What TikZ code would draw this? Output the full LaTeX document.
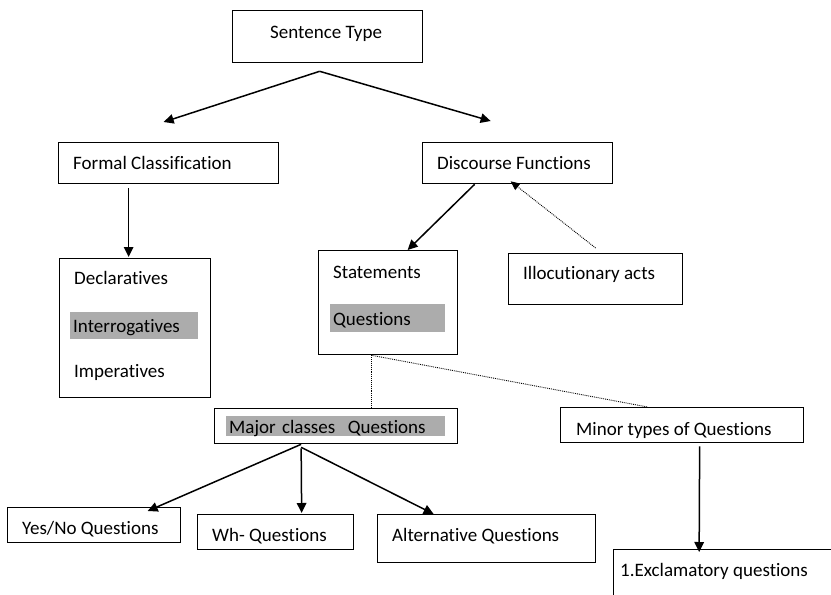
\documentclass[tikz,border=0pt]{standalone}
\usepackage{fontspec}
\setmainfont[Ligatures={NoCommon}]{Carlito}
\usetikzlibrary{arrows.meta}
\definecolor{hlgray}{RGB}{172,172,172}

\begin{document}
\begin{tikzpicture}[
  x=1pt,y=-1pt,
  font=\fontsize{19}{22}\selectfont,
  box/.style={draw,line width=1.3pt,anchor=north west,inner sep=0pt},
  lbl/.style={anchor=west,inner sep=0pt,text height=16pt,text depth=2pt},
  hl/.style={fill=hlgray,anchor=west,inner xsep=3pt,inner ysep=0pt,
             align=left,text height=16pt,text depth=2pt},
  arr/.style={-{Triangle[length=10pt,width=9.5pt]},line width=1.5pt},
  dots/.style={densely dotted,line width=0.9pt},
]
  \useasboundingbox (0,0) rectangle (831,595);
  \clip (0,0) rectangle (831,595);

  % boxes
  \node[box,minimum width=190pt,minimum height=52pt] (sent) at (232,10) {};
  \node[box,minimum width=220pt,minimum height=41pt] (formal) at (58,142) {};
  \node[box,minimum width=190pt,minimum height=41pt] (disc) at (422,142) {};
  \node[box,minimum width=151pt,minimum height=139pt] (decl) at (59,258) {};
  \node[box,minimum width=139pt,minimum height=104pt] (stat) at (318,250) {};
  \node[box,minimum width=174pt,minimum height=51pt] (illoc) at (508,253) {};
  \node[box,minimum width=243pt,minimum height=35pt] (major) at (214,408) {};
  \node[box,minimum width=243pt,minimum height=35pt] (minor) at (560,407) {};
  \node[box,minimum width=173pt,minimum height=35pt] (yesno) at (7,507) {};
  \node[box,minimum width=156pt,minimum height=35pt] (wh) at (197,514) {};
  \node[box,minimum width=218pt,minimum height=48pt] (alt) at (377,514) {};
  \node[box,minimum width=300pt,minimum height=100pt] (excl) at (613,549) {};

  % texts
  \node[lbl] (sentT) at (270,31) {Sentence Type};
  \node[lbl] (formalT) at (73,162) {Formal Classification};
  \node[lbl] (discT) at (437,162) {Discourse Functions};
  \node[lbl] (declT) at (74,277) {Declaratives};
  \node[hl,minimum height=27pt,text width=122pt] (interT) at (70,325.5) {Interrogatives};
  \node[lbl] (impT) at (74,370) {Imperatives};
  \node[lbl] (statT) at (333,271) {Statements};
  \node[hl,minimum height=28pt,text width=109pt] (quesT) at (330,318) {Questions};
  \node[lbl] (illocT) at (523,272) {Illocutionary acts};
  \node[hl,minimum height=20pt,text width=213pt] (majorT) at (226,426) {Major classes\ \ Questions};
  \node[lbl] (minorT) at (576,428) {Minor types of Questions};
  \node[lbl] (yesnoT) at (22,527) {Yes/No Questions};
  \node[lbl] (whT) at (212,534) {Wh- Questions};
  \node[lbl] (altT) at (392,534) {Alternative Questions};
  \node[lbl] (exclT) at (620,569) {1.Exclamatory questions};

  % connectors
  \coordinate (split) at ([xshift=-8pt,yshift=-8pt]sent.south);
  \draw[arr] (split) -- ([xshift=-5pt,yshift=20pt]formal.north);
  \draw[arr] (split) -- ([xshift=-27pt,yshift=21pt]disc.north);
  \draw[arr] ([xshift=-40pt,yshift=-4pt]formal.south) -- ([xshift=-6.5pt,yshift=1pt]decl.north);
  \draw[arr] ([xshift=-43pt]disc.south) -- ([xshift=19.5pt]stat.north);
  \draw[dots,-{Triangle[length=9pt,width=8pt]}] ([yshift=5pt]illoc.north) -- ([xshift=-7pt,yshift=3pt]disc.south);

  \coordinate (statOut) at ([xshift=-16.5pt]stat.south);
  \draw[dots] (statOut) -- (statOut |- major.north);
  \draw[dots] (statOut) -- ([xshift=-34.5pt]minor.north);
  \draw[arr] ([xshift=17.5pt,yshift=-3pt]minor.south) -- ([xshift=-64.5pt,yshift=-3pt]excl.north);

  \coordinate (majOut) at ([xshift=-35pt]major.south);
  \draw[arr] (majOut) -- ([xshift=53.5pt,yshift=-4pt]yesno.north);
  \draw[arr] ([yshift=-4pt]majOut) -- ([xshift=26pt,yshift=1pt]wh.north);
  \draw[arr] ([yshift=-3pt]majOut) -- ([xshift=-53pt]alt.north);
\end{tikzpicture}
\end{document}
